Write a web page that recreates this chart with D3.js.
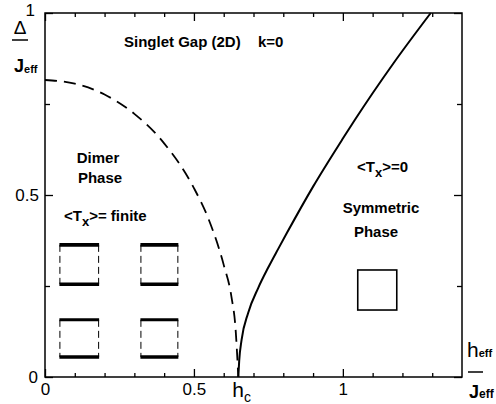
<!DOCTYPE html>
<html>
<head>
<meta charset="utf-8">
<script src="https://cdn.jsdelivr.net/npm/d3@7"></script>
<style>
body { margin: 0; background: #fff; }
svg { font-family: "Liberation Sans", Arial, sans-serif; }
</style>
</head>
<body>
<svg id="chart" width="496" height="404"></svg>
<script>
// dimer phase boundary (dashed)
var hDimer   = [0, 0.1, 0.2, 0.3, 0.4, 0.5, 0.55, 0.6, 0.626, 0.64, 0.649];
var gapDimer = [0.816, 0.806, 0.776, 0.723, 0.642, 0.519, 0.432, 0.308, 0.22, 0.13, 0];

// symmetric phase singlet gap (solid)
var hSym   = [0.649, 0.652, 0.660, 0.682, 0.716, 0.749, 0.783, 0.811, 0.9, 1.0, 1.04, 1.17, 1.295];
var gapSym = [0, 0.045, 0.102, 0.176, 0.245, 0.300, 0.352, 0.394, 0.523, 0.655, 0.706, 0.862, 1.0];

var hc = 0.649;
var xMajor = [0, 0.5, 1];
var xMinor = [0.1, 0.2, 0.3, 0.4, 0.6, 0.7, 0.8, 0.9, 1.1, 1.2, 1.3];
var yMajor = [0, 0.5, 1];
var yMinor = [0.25, 0.75];
var xLabels = ["0", "0.5", "1"];
var yLabels = ["0", "0.5", "1"];

var svg = d3.select("#chart");
var plotL = 45, plotT = 13, plotR = 462, plotB = 377;

var x = d3.scaleLinear().domain([0, 1.4]).range([plotL, plotR]);
var y = d3.scaleLinear().domain([0, 1]).range([plotB, plotT]);

// ticks on all four sides, pointing inward
function addAxis(axis, tx, ty) {
	var g = svg.append("g")
		.attr("transform", "translate(" + tx + "," + ty + ")")
		.call(axis);
	g.select(".domain").remove();
	g.selectAll(".tick line").attr("stroke", "#000").attr("stroke-width", 1.3);
	g.selectAll("text").attr("fill", "#000").style("font-size", "17px")
		.style("font-family", "Liberation Sans, Arial, sans-serif");
	return g;
}

addAxis(d3.axisBottom(x).tickValues(xMajor).tickSize(-8).tickPadding(6)
	.tickFormat(function(d, i) { return xLabels[i]; }), 0, plotB);
addAxis(d3.axisBottom(x).tickValues(xMinor).tickSize(-4).tickFormat(""), 0, plotB);
addAxis(d3.axisTop(x).tickValues(xMajor).tickSize(-8).tickFormat(""), 0, plotT);
addAxis(d3.axisTop(x).tickValues(xMinor).tickSize(-4).tickFormat(""), 0, plotT);

var ly = addAxis(d3.axisLeft(y).tickValues(yMajor).tickSize(-8).tickPadding(6)
	.tickFormat(function(d, i) { return yLabels[i]; }), plotL, 0);
addAxis(d3.axisLeft(y).tickValues(yMinor).tickSize(-5).tickFormat(""), plotL, 0);
addAxis(d3.axisRight(y).tickValues(yMajor).tickSize(-8).tickFormat(""), plotR, 0);
addAxis(d3.axisRight(y).tickValues(yMinor).tickSize(-5).tickFormat(""), plotR, 0);

// the "1" on the y axis sits a bit higher, next to the delta
ly.selectAll(".tick").filter(function(d) { return d === 1; }).select("text")
	.attr("x", -10).attr("y", -3);
ly.selectAll(".tick").filter(function(d) { return d === 0; }).select("text")
	.attr("x", -7);

// frame
svg.append("rect")
	.attr("x", plotL).attr("y", plotT)
	.attr("width", plotR - plotL).attr("height", plotB - plotT)
	.attr("fill", "none").attr("stroke", "#000").attr("stroke-width", 1.5);

var line = d3.line()
	.x(function(d) { return x(d[0]); })
	.y(function(d) { return y(d[1]); })
	.curve(d3.curveMonotoneX);

svg.append("path")
	.attr("d", line(d3.zip(hDimer, gapDimer)))
	.attr("fill", "none").attr("stroke", "#000")
	.attr("stroke-width", 1.8).attr("stroke-dasharray", "12,7");

svg.append("path")
	.attr("d", line(d3.zip(hSym, gapSym)))
	.attr("fill", "none").attr("stroke", "#000")
	.attr("stroke-width", 2);

// schematic plaquettes (data units)
var dimerBoxes = [
	{h0: 0.05, h1: 0.18, d0: 0.255, d1: 0.363, topW: 3.6},
	{h0: 0.322, h1: 0.446, d0: 0.255, d1: 0.363, topW: 3.6},
	{h0: 0.05, h1: 0.18, d0: 0.055, d1: 0.157, topW: 3},
	{h0: 0.322, h1: 0.446, d0: 0.055, d1: 0.157, topW: 3}
];
dimerBoxes.forEach(function(b) {
	var g = svg.append("g");
	[b.h0, b.h1].forEach(function(h) {
		g.append("line")
			.attr("x1", x(h)).attr("x2", x(h))
			.attr("y1", y(b.d1)).attr("y2", y(b.d0))
			.attr("stroke", "#000").attr("stroke-width", 1)
			.attr("stroke-dasharray", "7,4");
	});
	g.append("line")
		.attr("x1", x(b.h0) - 0.5).attr("x2", x(b.h1) + 0.5)
		.attr("y1", y(b.d1)).attr("y2", y(b.d1))
		.attr("stroke", "#000").attr("stroke-width", b.topW);
	g.append("line")
		.attr("x1", x(b.h0) - 0.5).attr("x2", x(b.h1) + 0.5)
		.attr("y1", y(b.d0)).attr("y2", y(b.d0))
		.attr("stroke", "#000").attr("stroke-width", 3.6);
});

svg.append("rect")
	.attr("x", x(1.05)).attr("y", y(0.294))
	.attr("width", x(1.181) - x(1.05)).attr("height", y(0.184) - y(0.294))
	.attr("fill", "none").attr("stroke", "#000").attr("stroke-width", 1.6);

// text labels
function label(tx, ty, str, anchor) {
	return svg.append("text")
		.attr("x", tx).attr("y", ty)
		.attr("text-anchor", anchor || "start")
		.style("font-size", "15px").style("font-weight", "bold")
		.text(str);
}
label(124, 47, "Singlet Gap (2D)");
label(258, 47, "k=0");
label(98, 163, "Dimer", "middle");
label(100, 183, "Phase", "middle");
label(381, 213, "Symmetric", "middle");
label(376, 237, "Phase", "middle");

function txLabel(tx, ty, rest) {
	var t = svg.append("text").attr("x", tx).attr("y", ty)
		.style("font-size", "15px").style("font-weight", "bold");
	t.append("tspan").text("<T");
	t.append("tspan").attr("dy", 5).style("font-size", "13px").text("x");
	t.append("tspan").attr("dy", -5).text(rest);
}
txLabel(64, 221, ">= finite");
txLabel(357, 172, ">=0");

// h_c on the x axis
var hcT = svg.append("text").attr("x", x(hc) - 6).attr("y", 397)
	.style("font-size", "21px");
hcT.append("tspan").text("h");
hcT.append("tspan").attr("dy", 5).style("font-size", "14px").text("c");

// y axis title: delta / J_eff
svg.append("text").attr("x", 20).attr("y", 34).attr("text-anchor", "middle")
	.style("font-size", "19px").text("\u0394");
svg.append("line").attr("x1", 12).attr("x2", 28).attr("y1", 40).attr("y2", 40)
	.attr("stroke", "#000").attr("stroke-width", 1.5);
var jl = svg.append("text").attr("x", 14).attr("y", 72)
	.style("font-size", "18px").style("font-weight", "bold");
jl.append("tspan").text("J");
jl.append("tspan").attr("dy", 1).style("font-size", "11px").text("eff");

// x axis title: h_eff / J_eff
var hl = svg.append("text").attr("x", 467).attr("y", 357)
	.style("font-size", "21px");
hl.append("tspan").text("h");
hl.append("tspan").style("font-size", "11px").style("font-weight", "bold").text("eff");
svg.append("line").attr("x1", 468).attr("x2", 483).attr("y1", 372).attr("y2", 372)
	.attr("stroke", "#000").attr("stroke-width", 1.5);
var jr = svg.append("text").attr("x", 469).attr("y", 398)
	.style("font-size", "18px").style("font-weight", "bold");
jr.append("tspan").text("J");
jr.append("tspan").style("font-size", "12px").text("eff");
</script>
</body>
</html>
